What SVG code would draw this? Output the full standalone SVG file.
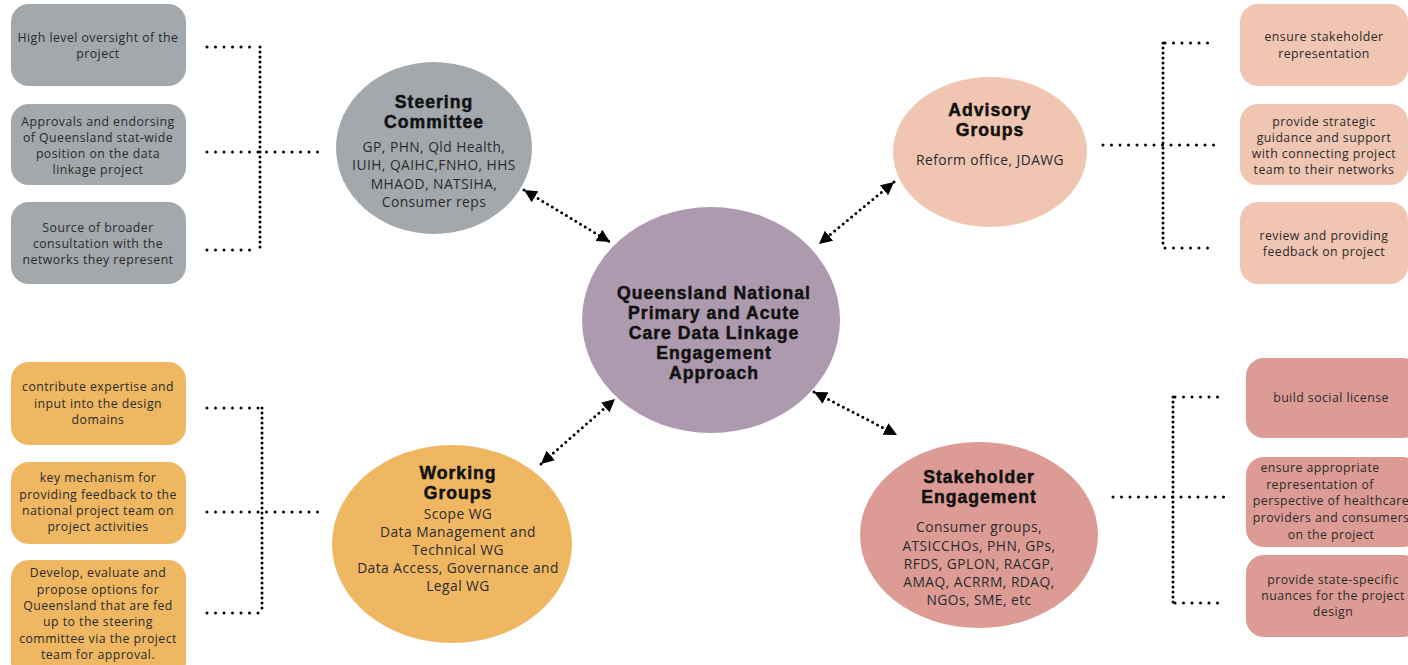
<svg xmlns="http://www.w3.org/2000/svg" width="1408" height="665" viewBox="0 0 1408 665">
<defs>
<style>
.body{font-family:"Open Sans","Liberation Sans",sans-serif;font-size:12.3px;letter-spacing:0.45px;fill:#2b2b2b;text-anchor:middle}
.cbody{font-family:"Open Sans","Liberation Sans",sans-serif;font-size:13.8px;letter-spacing:0.45px;fill:#2b2b2b;text-anchor:middle}
.head{font-family:"Liberation Sans",Arial,sans-serif;font-size:17.6px;font-weight:bold;letter-spacing:1px;fill:#111;stroke:#111;stroke-width:0.5px;text-anchor:middle}
.dh{fill:none;stroke:#000;stroke-width:3;stroke-linecap:round;stroke-dasharray:0 8.5}
.dv{fill:none;stroke:#000;stroke-width:3;stroke-linecap:round;stroke-dasharray:0 5}
.da{fill:none;stroke:#000;stroke-width:3;stroke-linecap:round;stroke-dasharray:0 5.5}
.gray{fill:#a2a8ac}
.peach{fill:#f0c5b2}
.orange{fill:#efb761}
.rose{fill:#dc9c95}
</style>
<marker id="ah" viewBox="0 0 10 10" refX="10" refY="5" markerWidth="13" markerHeight="13" markerUnits="userSpaceOnUse" orient="auto-start-reverse">
<path d="M0,0 L10,5 L0,10 z" fill="#000"/>
</marker>
</defs>
<rect width="1408" height="665" fill="#fff"/>

<g id="connectors">
<path class="dh" d="M207,47 H258"/>
<path class="dv" d="M260,47 V250"/>
<path class="dh" d="M207,152 H320"/>
<path class="dh" d="M207,250 H258"/>
<path class="dh" d="M1165,43 H1216"/>
<path class="dv" d="M1163,43 V248"/>
<path class="dh" d="M1103,145 H1216"/>
<path class="dh" d="M1165,248 H1216"/>
<path class="dh" d="M207,408 H260"/>
<path class="dv" d="M262,408 V613"/>
<path class="dh" d="M207,512 H322"/>
<path class="dh" d="M207,613 H260"/>
<path class="dh" d="M1175,397 H1225"/>
<path class="dv" d="M1173,397 V603"/>
<path class="dh" d="M1113,497 H1225"/>
<path class="dh" d="M1175,603 H1225"/>
<path class="da" d="M524,190 L610,242" marker-start="url(#ah)" marker-end="url(#ah)"/>
<path class="da" d="M894,182 L819,244" marker-start="url(#ah)" marker-end="url(#ah)"/>
<path class="da" d="M541,464 L615,399" marker-start="url(#ah)" marker-end="url(#ah)"/>
<path class="da" d="M814,392 L897,435" marker-start="url(#ah)" marker-end="url(#ah)"/>
</g>

<g id="sc-box1"><rect class="gray" x="11" y="4" width="175" height="82" rx="18"/>
<text class="body" x="98" y="42">High level oversight of the</text><text class="body" x="98" y="58">project</text></g>
<g id="sc-box2"><rect class="gray" x="11" y="104" width="175" height="81" rx="18"/>
<text class="body" x="98" y="126">Approvals and endorsing</text><text class="body" x="98" y="142">of Queensland stat-wide</text><text class="body" x="98" y="158">position on the data</text><text class="body" x="98" y="174">linkage project</text></g>
<g id="sc-box3"><rect class="gray" x="11" y="202" width="175" height="82" rx="18"/>
<text class="body" x="98" y="232">Source of broader</text><text class="body" x="98" y="248">consultation with the</text><text class="body" x="98" y="264">networks they represent</text></g>

<g id="ag-box1"><rect class="peach" x="1240" y="4" width="168" height="82" rx="18"/>
<text class="body" x="1324" y="41">ensure stakeholder</text><text class="body" x="1324" y="58">representation</text></g>
<g id="ag-box2"><rect class="peach" x="1240" y="104" width="168" height="81" rx="18"/>
<text class="body" x="1324" y="126">provide strategic</text><text class="body" x="1324" y="142">guidance and support</text><text class="body" x="1324" y="158">with connecting project</text><text class="body" x="1324" y="174">team to their networks</text></g>
<g id="ag-box3"><rect class="peach" x="1240" y="202" width="168" height="82" rx="18"/>
<text class="body" x="1324" y="240">review and providing</text><text class="body" x="1324" y="256">feedback on project</text></g>

<g id="wg-box1"><rect class="orange" x="11" y="362" width="175" height="83" rx="18"/>
<text class="body" x="98" y="391">contribute expertise and</text><text class="body" x="98" y="408">input into the design</text><text class="body" x="98" y="424">domains</text></g>
<g id="wg-box2"><rect class="orange" x="11" y="462" width="175" height="82" rx="18"/>
<text class="body" x="98" y="482">key mechanism for</text><text class="body" x="98" y="499">providing feedback to the</text><text class="body" x="98" y="515">national project team on</text><text class="body" x="98" y="531">project activities</text></g>
<g id="wg-box3"><rect class="orange" x="11" y="560" width="175" height="120" rx="18"/>
<text class="body" x="98" y="577">Develop, evaluate and</text><text class="body" x="98" y="594">propose options for</text><text class="body" x="98" y="610">Queensland that are fed</text><text class="body" x="98" y="626">up to the steering</text><text class="body" x="98" y="643">committee via the project</text><text class="body" x="98" y="659">team for approval.</text></g>

<g id="se-box1"><rect class="rose" x="1246" y="358" width="175" height="80" rx="18"/>
<text class="body" x="1331" y="402">build social license</text></g>
<g id="se-box2"><rect class="rose" x="1246" y="457" width="175" height="90" rx="18"/>
<text class="body" x="1320" y="472">ensure appropriate</text><text class="body" x="1320" y="489">representation of</text><text class="body" x="1331" y="505">perspective of  healthcare</text><text class="body" x="1331" y="522">providers and consumers</text><text class="body" x="1331" y="539">on the project</text></g>
<g id="se-box3"><rect class="rose" x="1246" y="555" width="175" height="82" rx="18"/>
<text class="body" x="1333" y="584">provide state-specific</text><text class="body" x="1333" y="600">nuances for the project</text><text class="body" x="1333" y="616">design</text></g>

<g id="steering-committee"><ellipse class="gray" cx="434" cy="148" rx="98" ry="86"/>
<text class="head" x="434" y="108"><tspan x="434" y="108">Steering</tspan><tspan x="434" y="128">Committee</tspan></text>
<text class="cbody" x="434" y="152">GP, PHN, Qld Health,</text><text class="cbody" x="434" y="170">IUIH, QAIHC,FNHO, HHS</text><text class="cbody" x="434" y="189">MHAOD, NATSIHA,</text><text class="cbody" x="434" y="207">Consumer reps</text></g>

<g id="advisory-groups"><ellipse class="peach" cx="990" cy="152" rx="97" ry="75"/>
<text class="head" x="990" y="116"><tspan x="990" y="116">Advisory</tspan><tspan x="990" y="136">Groups</tspan></text>
<text class="cbody" x="990" y="165">Reform office, JDAWG</text></g>

<g id="center"><ellipse fill="#ae9aae" cx="711" cy="320" rx="129" ry="113"/>
<text class="head" x="714" y="299"><tspan x="714" y="299">Queensland National</tspan><tspan x="714" y="319">Primary and Acute</tspan><tspan x="714" y="339">Care Data Linkage</tspan><tspan x="714" y="359">Engagement</tspan><tspan x="714" y="379">Approach</tspan></text></g>

<g id="working-groups"><ellipse class="orange" cx="452" cy="544" rx="120" ry="99"/>
<text class="head" x="458" y="479"><tspan x="458" y="479">Working</tspan><tspan x="458" y="499">Groups</tspan></text>
<text class="cbody" x="458" y="519">Scope WG</text><text class="cbody" x="458" y="537">Data Management and</text><text class="cbody" x="458" y="555">Technical WG</text><text class="cbody" x="458" y="573">Data Access, Governance and</text><text class="cbody" x="458" y="591">Legal WG</text></g>

<g id="stakeholder-engagement"><ellipse class="rose" cx="979" cy="535" rx="119" ry="93"/>
<text class="head" x="979" y="483"><tspan x="979" y="483">Stakeholder</tspan><tspan x="979" y="503">Engagement</tspan></text>
<text class="cbody" x="979" y="532">Consumer groups,</text><text class="cbody" x="979" y="551">ATSICCHOs, PHN, GPs,</text><text class="cbody" x="979" y="569">RFDS, GPLON, RACGP,</text><text class="cbody" x="979" y="587">AMAQ, ACRRM, RDAQ,</text><text class="cbody" x="979" y="605">NGOs, SME, etc</text></g>
</svg>
